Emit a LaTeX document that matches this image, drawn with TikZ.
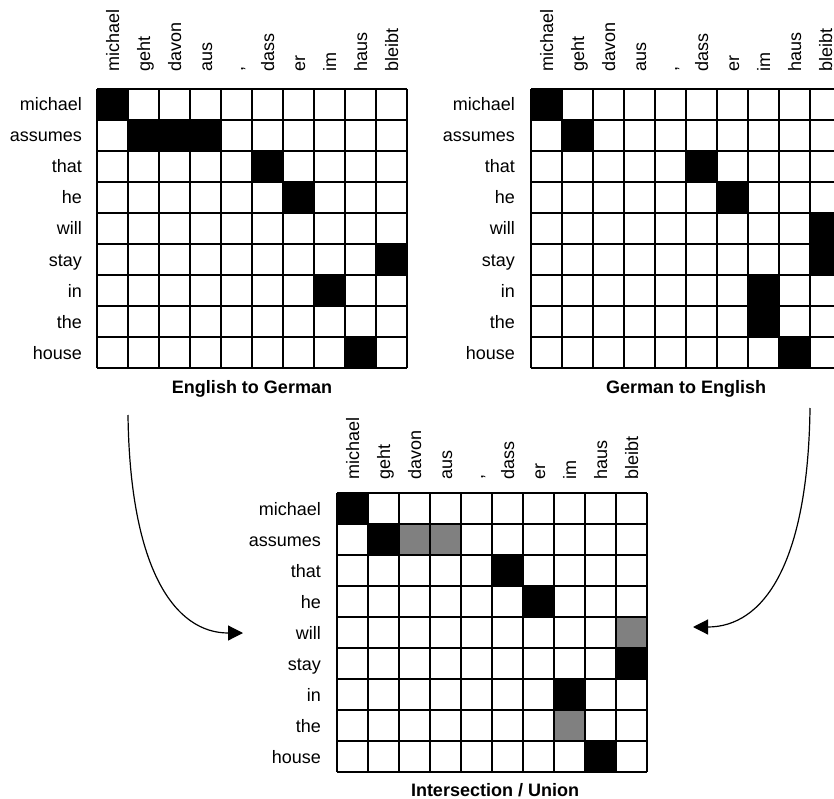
\documentclass[tikz,border=0pt]{standalone}
\usepackage{fontspec}
\setmainfont{Liberation Sans}
\usetikzlibrary{arrows.meta}
\tikzset{
  gridline/.style={draw=black, line width=1.3pt},
  blackcell/.style={fill=black},
  graycell/.style={fill=black!50},
  rowlab/.style={anchor=base east, inner sep=0pt, font=\fontsize{18}{20}\selectfont},
  collab/.style={anchor=base west, rotate=90, inner sep=0pt, font=\fontsize{18}{20}\selectfont},
  gtitle/.style={anchor=base, inner sep=0pt, font=\bfseries\fontsize{18}{20}\selectfont},
  flow/.style={line width=1.2pt, -{Triangle[length=15pt,width=15pt]}},
}
\begin{document}
\begin{tikzpicture}[x=1pt,y=-1pt]
\useasboundingbox (0,0) rectangle (834,799);
\clip (0,0) rectangle (834,799);

% ---------- top left: English to German ----------
\foreach \c/\r in {0/0,1/1,2/1,3/1,5/2,6/3,9/5,7/6,8/8}
  \fill[blackcell] (97+\c*31,89+\r*31) rectangle ++(31,31);
\foreach \i in {0,...,10} \draw[gridline] (97+\i*31,89) -- ++(0,279);
\foreach \j in {0,...,9} \draw[gridline] (97,89+\j*31) -- ++(310,0);
\foreach \w [count=\j from 0] in {michael,assumes,that,he,will,stay,in,the,house}
  \node[rowlab] (tl-r\j) at (82,89+\j*31+22) {\w};
\foreach \w [count=\i from 0] in {michael,geht,davon,aus,{,},dass,er,im,haus,bleibt}
  \node[collab] (tl-c\i) at (97+\i*31+22,72) {\w};
\node[gtitle] (tl-t) at (252,393) {English to German};

% ---------- top right: German to English ----------
\foreach \c/\r in {0/0,1/1,5/2,6/3,9/4,9/5,7/6,7/7,8/8}
  \fill[blackcell] (531+\c*31,89+\r*31) rectangle ++(31,31);
\foreach \i in {0,...,10} \draw[gridline] (531+\i*31,89) -- ++(0,279);
\foreach \j in {0,...,9} \draw[gridline] (531,89+\j*31) -- ++(310,0);
\foreach \w [count=\j from 0] in {michael,assumes,that,he,will,stay,in,the,house}
  \node[rowlab] (tr-r\j) at (515,89+\j*31+22) {\w};
\foreach \w [count=\i from 0] in {michael,geht,davon,aus,{,},dass,er,im,haus,bleibt}
  \node[collab] (tr-c\i) at (531+\i*31+22,72) {\w};
\node[gtitle] (tr-t) at (686,393) {German to English};

% ---------- bottom: Intersection / Union ----------
\foreach \c/\r in {0/0,1/1,5/2,6/3,9/5,7/6,8/8}
  \fill[blackcell] (337+\c*31,493+\r*31) rectangle ++(31,31);
\foreach \c/\r in {2/1,3/1,9/4,7/7}
  \fill[graycell] (337+\c*31,493+\r*31) rectangle ++(31,31);
\foreach \i in {0,...,10} \draw[gridline] (337+\i*31,493) -- ++(0,279);
\foreach \j in {0,...,9} \draw[gridline] (337,493+\j*31) -- ++(310,0);
\foreach \w [count=\j from 0] in {michael,assumes,that,he,will,stay,in,the,house}
  \node[rowlab] (b-r\j) at (321,493+\j*31+22) {\w};
\foreach \w [count=\i from 0] in {michael,geht,davon,aus,{,},dass,er,im,haus,bleibt}
  \node[collab] (b-c\i) at (337+\i*31+22,480) {\w};
\node[gtitle] (b-t) at (495,796) {Intersection / Union};

% ---------- arrows ----------
\coordinate (la-s) at (128,415);
\coordinate (la-e) at (243,633);
\coordinate (ra-s) at (810,408);
\coordinate (ra-e) at (693,627);
\draw[flow] (la-s) .. controls (130,570) and (175,633) .. (la-e);
\draw[flow] (ra-s) .. controls (808,565) and (763,627) .. (ra-e);
\end{tikzpicture}
\end{document}
